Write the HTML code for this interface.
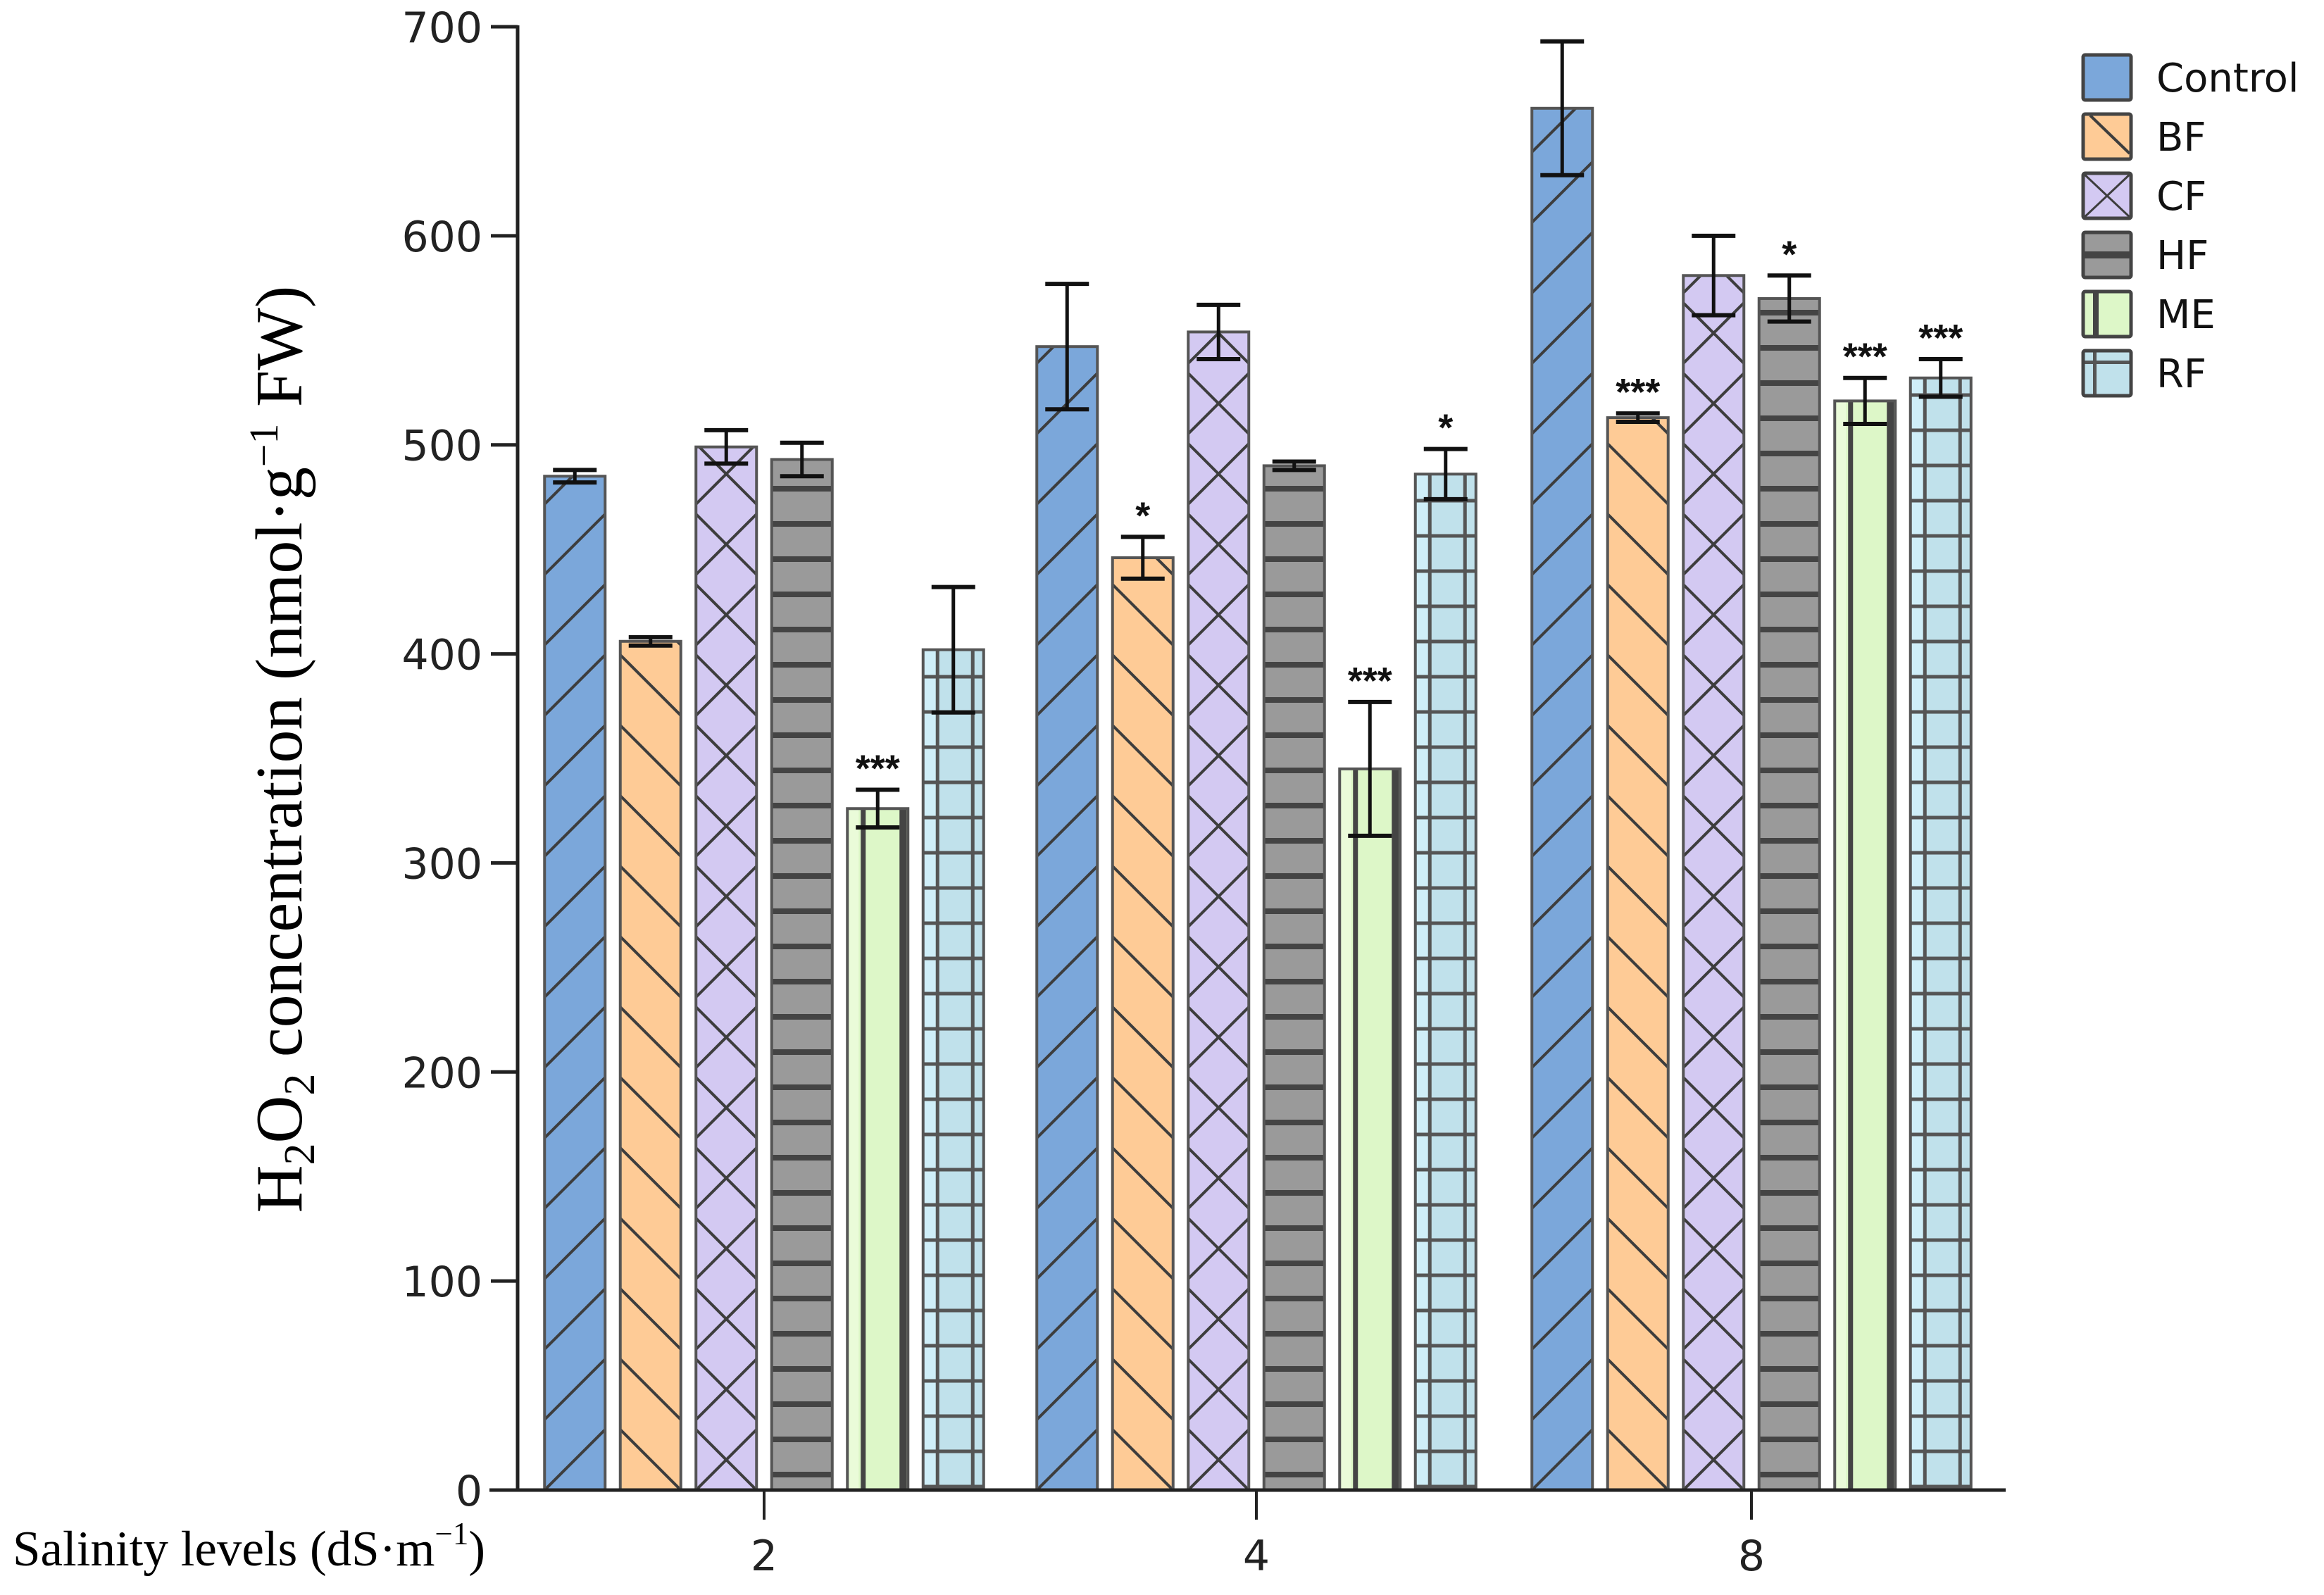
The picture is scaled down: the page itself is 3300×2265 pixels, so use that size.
<!DOCTYPE html>
<html><head><meta charset="utf-8"><style>
html,body{margin:0;padding:0;background:#fff;}
svg{display:block;}
</style></head><body>
<svg id="chart" width="3300" height="2265" viewBox="0 0 3300 2265" xmlns="http://www.w3.org/2000/svg">
<defs id="defs"></defs>
<g id="bars"></g>
<g id="axes"></g>
<text transform="translate(428,1064) rotate(-90)" text-anchor="middle" font-family="Liberation Serif, serif" font-size="94" fill="#000">H<tspan font-size="62" dy="18">2</tspan><tspan dy="-18">O</tspan><tspan font-size="62" dy="18">2</tspan><tspan dy="-18"> concentration (nmol·g</tspan><tspan font-size="58" dy="-34">−1</tspan><tspan dy="34"> FW)</tspan></text>
<text x="18" y="2223" font-family="Liberation Serif, serif" font-size="71" fill="#000">Salinity levels (dS·m<tspan font-size="45" dy="-30">−1</tspan><tspan dy="30">)</tspan></text>
<g id="legend"></g>
</svg>
<script>
const categories = ["2", "4", "8"];
const seriesNames = ["Control", "BF", "CF", "HF", "ME", "RF"];
const controlValues = [485, 547, 661];
const bfValues = [406, 446, 513];
const cfValues = [499, 554, 581];
const hfValues = [493, 490, 570];
const meValues = [326, 345, 521];
const rfValues = [402, 486, 532];
const controlErr = [3, 30, 32];
const bfErr = [2, 10, 2];
const cfErr = [8, 13, 19];
const hfErr = [8, 2, 11];
const meErr = [9, 32, 11];
const rfErr = [30, 12, 9];
const controlSig = ["", "", ""];
const bfSig = ["", "*", "***"];
const cfSig = ["", "", ""];
const hfSig = ["", "", "*"];
const meSig = ["***", "***", "***"];
const rfSig = ["", "*", "***"];
const yTicks = [0, 100, 200, 300, 400, 500, 600, 700];

const values = [controlValues, bfValues, cfValues, hfValues, meValues, rfValues];
const errs = [controlErr, bfErr, cfErr, hfErr, meErr, rfErr];
const sigs = [controlSig, bfSig, cfSig, hfSig, meSig, rfSig];
const fills = ["#7ba7da", "#fecb96", "#d3c9f2", "#9a9a9a", "#ddf7c8", "#c0e1eb"];
const NS = "http://www.w3.org/2000/svg";
const X0 = 735, Y0 = 2116, YTOP = 36, XEND = 2848;
const groupX = [1085, 1784, 2487];
const pitch = 107.5, barW = 86;
function yScale(v){ return Y0 - (v/700)*(Y0-38); }
function xScale(gi, si){ return groupX[gi] + (si-2.5)*pitch; }
function el(tag, attrs, parent){
  const e = document.createElementNS(NS, tag);
  for (const k in attrs) e.setAttribute(k, attrs[k]);
  parent.appendChild(e); return e;
}
const defs = document.getElementById('defs');
const barsG = document.getElementById('bars');
const axesG = document.getElementById('axes');
const LC = "#3d3d3d";

function drawHatch(g, si, x, y, w, h){
  if (si === 0 || si === 1 || si === 2){
    const p = 100;
    for (let k = -2; k < h/p + 3; k++){
      const yb = y + h - k*p;
      if (si === 0 || si === 2) el('line', {x1:x, y1:yb, x2:x+w, y2:yb-w, stroke:LC, 'stroke-width':4}, g);
      if (si === 1 || si === 2) el('line', {x1:x, y1:yb-w, x2:x+w, y2:yb, stroke:LC, 'stroke-width':4}, g);
    }
  } else if (si === 3){
    for (let yy = y+h-22; yy > y; yy -= 50) el('rect', {x:x, y:yy-4, width:w, height:8, fill:"#444"}, g);
  } else if (si === 4){
    el('rect', {x:x, y:y, width:16, height:h, fill:"#eafbd9"}, g);
    el('rect', {x:x+19, y:y, width:7, height:h, fill:"#444"}, g);
    el('rect', {x:x+w-12, y:y, width:10, height:h, fill:"#444"}, g);
  } else if (si === 5){
    el('rect', {x:x, y:y, width:18, height:h, fill:"#cfeef8"}, g);
    el('rect', {x:x+18, y:y, width:5, height:h, fill:"#555"}, g);
    el('rect', {x:x+68, y:y, width:5, height:h, fill:"#555"}, g);
    for (let yy = y+h-5; yy > y; yy -= 50) el('rect', {x:x, y:yy-2.5, width:w, height:5, fill:"#555"}, g);
  }
}

let clipId = 0;
for (let gi = 0; gi < categories.length; gi++){
  for (let si = 0; si < seriesNames.length; si++){
    const v = values[si][gi];
    const cx = xScale(gi, si), x = cx - barW/2, yt = yScale(v), h = Y0 - yt;
    const g = el('g', {}, barsG);
    
    
    const cid = 'c' + (clipId++);
    const cp = el('clipPath', {id:cid}, defs);
    el('rect', {x:x, y:yt, width:barW, height:h}, cp);
    el('rect', {x:x, y:yt, width:barW, height:h, fill:fills[si]}, g);
    const hg = el('g', {'clip-path':'url(#'+cid+')'}, g);
    drawHatch(hg, si, x, yt, barW, h);
    el('rect', {x:x, y:yt, width:barW, height:h, fill:'none', stroke:'#555', 'stroke-width':4}, g);
    const e = errs[si][gi];
    const eg = el('g', {}, barsG);
    
    
    const yHi = yScale(v+e), yLo = yScale(v-e);
    el('line', {x1:cx, y1:yHi, x2:cx, y2:yLo, stroke:'#111', 'stroke-width':5}, eg);
    el('line', {x1:cx-31, y1:yHi, x2:cx+31, y2:yHi, stroke:'#111', 'stroke-width':6}, eg);
    el('line', {x1:cx-31, y1:yLo, x2:cx+31, y2:yLo, stroke:'#111', 'stroke-width':6}, eg);
    const s = sigs[si][gi];
    if (s){
      const t = el('text', {x:cx, y:yHi-12, 'text-anchor':'middle', 'font-family':'Liberation Sans, sans-serif', 'font-size':54, 'font-weight':'bold', fill:'#111'}, barsG);
      
      
      t.textContent = s;
    }
  }
}
// axes
el('line', {x1:X0, y1:YTOP, x2:X0, y2:Y0+2, stroke:'#222', 'stroke-width':5}, axesG);
el('line', {x1:X0-40, y1:Y0, x2:XEND, y2:Y0, stroke:'#222', 'stroke-width':5}, axesG);
for (const t of yTicks){
  const yy = yScale(t);
  el('line', {x1:X0-38, y1:yy, x2:X0, y2:yy, stroke:'#222', 'stroke-width':5}, axesG);
  const tx = el('text', {x:X0-50, y:yy+22, 'text-anchor':'end', 'font-family':'DejaVu Sans, sans-serif', 'font-size':60, fill:'#222'}, axesG);
  
  
  tx.textContent = t;
}
for (let gi = 0; gi < categories.length; gi++){
  el('line', {x1:groupX[gi], y1:Y0, x2:groupX[gi], y2:Y0+42, stroke:'#222', 'stroke-width':4}, axesG);
  const tx = el('text', {x:groupX[gi], y:2230, 'text-anchor':'middle', 'font-family':'DejaVu Sans, sans-serif', 'font-size':60, fill:'#222'}, axesG);
  
  
  tx.textContent = categories[gi];
}
// legend
const lg = document.getElementById('legend');
for (let si = 0; si < seriesNames.length; si++){
  const y = 78 + si*84, x = 2958, w = 68, h = 64;
  const g = el('g', {}, lg);
  
  
  const cid = 'c' + (clipId++);
  const cp = el('clipPath', {id:cid}, defs);
  el('rect', {x:x, y:y, width:w, height:h}, cp);
  el('rect', {x:x, y:y, width:w, height:h, fill:fills[si]}, g);
  const hg = el('g', {'clip-path':'url(#'+cid+')'}, g);
  if (si === 1) el('line', {x1:x+10, y1:y+2, x2:x+w-2, y2:y+h-8, stroke:LC, 'stroke-width':4}, hg);
  if (si === 2){ el('line', {x1:x, y1:y, x2:x+w, y2:y+h, stroke:LC, 'stroke-width':3}, hg); el('line', {x1:x, y1:y+h, x2:x+w, y2:y, stroke:LC, 'stroke-width':3}, hg); }
  if (si === 3) el('rect', {x:x, y:y+h/2-5, width:w, height:10, fill:'#444'}, hg);
  if (si === 4) el('rect', {x:x+14, y:y, width:8, height:h, fill:'#444'}, hg);
  if (si === 5){ el('rect', {x:x+14, y:y, width:5, height:h, fill:'#555'}, hg); el('rect', {x:x, y:y+14, width:w, height:5, fill:'#555'}, hg); }
  el('rect', {x:x, y:y, width:w, height:h, fill:'none', stroke:'#444', 'stroke-width':5, rx:3}, g);
  const t = el('text', {x:3062, y:y+52, 'font-family':'DejaVu Sans, sans-serif', 'font-size':56, fill:'#111'}, g);
  t.textContent = seriesNames[si];
}
</script>
</body></html>
